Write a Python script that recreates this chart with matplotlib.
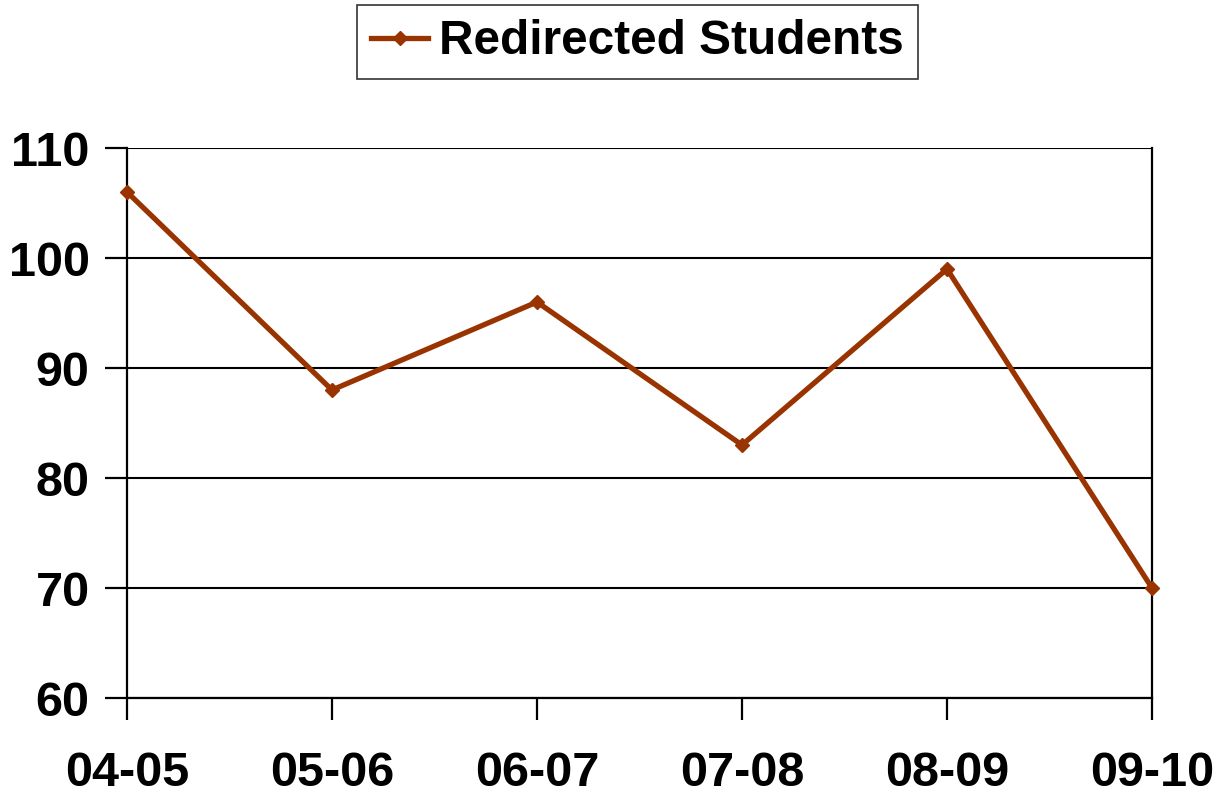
import matplotlib
matplotlib.use("Agg")
import matplotlib.pyplot as plt
from matplotlib.lines import Line2D

categories = ["04-05", "05-06", "06-07", "07-08", "08-09", "09-10"]
values = [106, 88, 96, 83, 99, 70]
yticks = [60, 70, 80, 90, 100, 110]
series_name = "Redirected Students"

plt.rcParams['font.family'] = ['Liberation Sans', 'DejaVu Sans']
plt.rcParams['font.weight'] = 'bold'

fig = plt.figure(figsize=(12.17, 7.92), dpi=100)
ax = fig.add_axes([127/1217, 1-698/792, (1152-127)/1217, (698-148)/792])

x = list(range(len(categories)))
color = "#993300"
ax.plot(x, values, color=color, lw=3.8, marker='D', ms=7, mec=color, mfc=color,
        solid_joinstyle='miter', zorder=5, clip_on=False)

ax.set_xlim(0, len(categories)-1)
ax.set_ylim(60, 110)
ax.set_yticks(yticks)
ax.set_xticks(x)
ax.set_xticklabels(categories)
for yv in yticks:
    ax.axhline(yv, color='black', lw=1.5, zorder=1)

for s in ax.spines.values():
    s.set_color('black')
    s.set_linewidth(1.6)
ax.spines['top'].set_visible(False)

ax.tick_params(axis='both', direction='out', length=16, width=1.6, color='black',
               labelsize=35)
ax.tick_params(axis='x', pad=22)
ax.tick_params(axis='y', pad=11)
for lab in ax.get_xticklabels() + ax.get_yticklabels():
    lab.set_fontweight('bold')

handle = Line2D([], [], color=color, lw=3.8, marker='D', ms=7, mec=color, mfc=color)
leg = fig.legend([handle], [series_name], loc='upper center',
                 bbox_to_anchor=(637.5/1217, 1-5/792), frameon=True, fancybox=False,
                 prop={'weight': 'bold', 'size': 34.4}, handlelength=1.2,
                 handletextpad=0.23, borderpad=0.3, borderaxespad=0)
leg.get_frame().set_edgecolor('black')
leg.get_frame().set_linewidth(1.2)

fig.savefig("out.png", dpi=100, facecolor='white')
